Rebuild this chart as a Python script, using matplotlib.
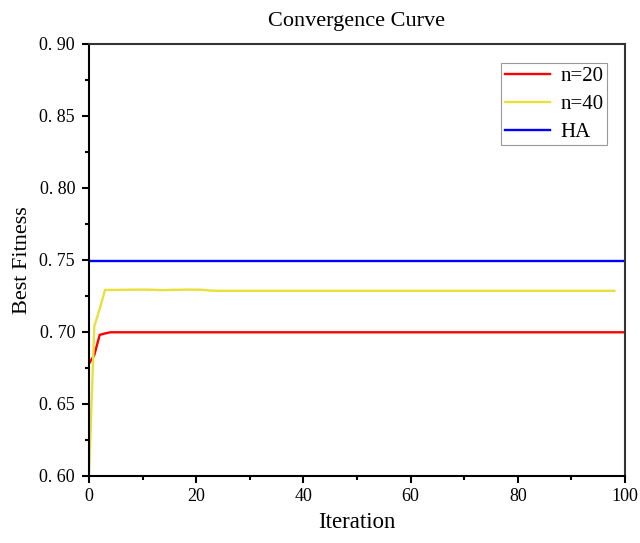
import matplotlib
matplotlib.use("Agg")
import matplotlib.pyplot as plt
from matplotlib.ticker import MultipleLocator, FuncFormatter

plt.rcParams["font.family"] = ["Liberation Serif", "DejaVu Serif"]

# values
red_x = list(range(0, 101))
red_y = [0.678, 0.684, 0.698, 0.699, 0.6998] + [0.6998] * 96

yellow_x = list(range(0, 99))
yellow_y = [0.600, 0.704, 0.716, 0.7292, 0.7292, 0.7292, 0.7293, 0.7293,
            0.7294, 0.7294, 0.7294, 0.7294, 0.7293, 0.7291, 0.7291, 0.7292,
            0.7293, 0.7293, 0.7294, 0.7294, 0.7294, 0.7293, 0.7290, 0.7287] + [0.7286] * 75

ha_x = [0, 100]
ha_y = [0.7493, 0.7493]

labels = ["n=20", "n=40", "HA"]

fig = plt.figure(figsize=(6.4, 5.43), dpi=100)
ax = fig.add_axes([0.139, 0.1234, 0.8376, 0.7956])

ax.plot(red_x, red_y, color="#ff0000", lw=1.7, label=labels[0])
ax.plot(yellow_x, yellow_y, color="#e8e13a", lw=1.7, label=labels[1])
ax.plot(ha_x, ha_y, color="#0000ff", lw=1.7, label=labels[2])

ax.set_xlim(0, 100)
ax.set_ylim(0.60, 0.90)
ax.xaxis.set_major_locator(MultipleLocator(20))
ax.xaxis.set_minor_locator(MultipleLocator(10))
ax.yaxis.set_major_locator(MultipleLocator(0.05))
ax.yaxis.set_minor_locator(MultipleLocator(0.025))
ax.yaxis.set_major_formatter(FuncFormatter(lambda v, p: f"{v:.2f}".replace(".", ". ")))

ax.tick_params(which="both", direction="out", width=1.5, labelsize=13)
ax.tick_params(axis="y", pad=5)
ax.tick_params(which="major", length=5)
ax.tick_params(which="minor", length=3)
for s in ax.spines.values():
    s.set_linewidth(1.5)
ax.spines["top"].set_color("#333333")
ax.spines["right"].set_color("#333333")

ax.set_title("Convergence Curve", fontsize=16, pad=13)
ax.set_xlabel("Iteration", fontsize=16.5, labelpad=5)
ax.set_ylabel("Best Fitness", fontsize=16, labelpad=5)

leg = ax.legend(loc="upper right", bbox_to_anchor=(0.966, 0.956), fontsize=15,
                fancybox=False, edgecolor="#999999", framealpha=1,
                handlelength=2.15, handletextpad=0.5, borderpad=0.17,
                labelspacing=0.4, borderaxespad=0)
leg.get_frame().set_linewidth(0.8)

fig.savefig("out.png", dpi=100)
